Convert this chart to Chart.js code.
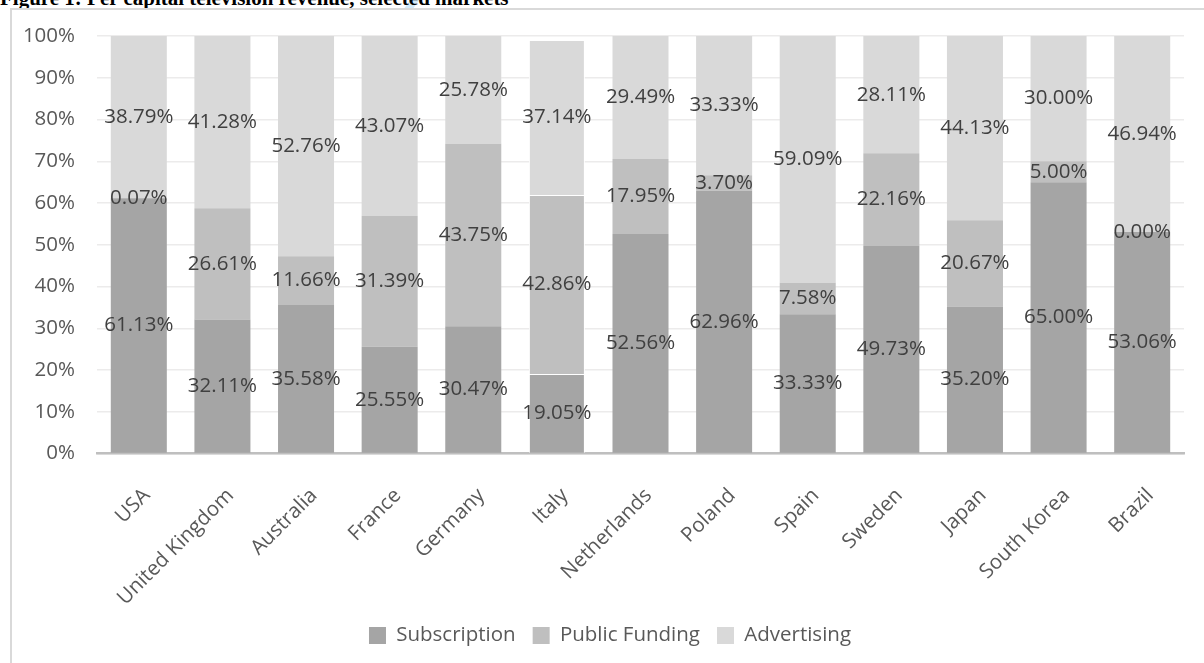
<!DOCTYPE html>
<html>
<head>
<meta charset="utf-8">
<script src="https://cdn.jsdelivr.net/npm/chart.js@4.4.1/dist/chart.umd.min.js"></script>
<style>
    html, body { margin: 0; padding: 0; background: #fff; overflow: hidden; }
    #wrap { position: relative; width: 1204px; height: 663px; }
    #realce {
        position: absolute; left: 407px; top: 0; width: 9px; height: 9px;
        background: #d3eaf9; transform: skewX(-35deg);
    }
    #titulo {
        position: absolute; left: 0; top: -14px; line-height: 21px;
        font: bold 21px "Liberation Serif", "Times New Roman", serif; color: #000; white-space: nowrap;
    }
    #moldura {
        position: absolute; left: 10px; top: 8px; width: 1300px; height: 700px;
        border-left: 2px solid #d9d9d9; border-top: 2px solid #d9d9d9;
    }
    #grafico { position: absolute; left: 0; top: 0; }
</style>
</head>
<body>
<div id="wrap">
    <div id="realce"></div>
    <div id="titulo">Figure 1: Per capital television revenue, selected markets</div>
    <div id="moldura"></div>
    <canvas id="grafico" width="1204" height="663"></canvas>
</div>
<script>
const paises = ['USA', 'United Kingdom', 'Australia', 'France', 'Germany', 'Italy',
    'Netherlands', 'Poland', 'Spain', 'Sweden', 'Japan', 'South Korea', 'Brazil'];
const assinatura = [61.13, 32.11, 35.58, 25.55, 30.47, 19.05, 52.56, 62.96, 33.33, 49.73, 35.20, 65.00, 53.06];
const financiamentoPublico = [0.07, 26.61, 11.66, 31.39, 43.75, 42.86, 17.95, 3.70, 7.58, 22.16, 20.67, 5.00, 0.00];
const publicidade = [38.79, 41.28, 52.76, 43.07, 25.78, 37.14, 29.49, 33.33, 59.09, 28.11, 44.13, 30.00, 46.94];
const ticksY = [0, 10, 20, 30, 40, 50, 60, 70, 80, 90, 100];

const fonte = '"Open Sans", "Noto Sans", sans-serif';
const tamFonte = 20.5;
// Italy has a thin white outline in the original
const bordaItalia = paises.map(p => p === 'Italy' ? 1 : 0);

// draws the value labels in the middle of each segment
const rotulosPlugin = {
    id: 'rotulos',
    afterDatasetsDraw(chart) {
        const ctx = chart.ctx;
        ctx.save();
        ctx.font = tamFonte + 'px ' + fonte;
        ctx.fillStyle = '#404040';
        ctx.textAlign = 'center';
        ctx.textBaseline = 'middle';
        chart.data.datasets.forEach((ds, i) => {
            chart.getDatasetMeta(i).data.forEach((bar, j) => {
                const p = bar.getCenterPoint();
                ctx.fillText(ds.data[j].toFixed(2) + '%', p.x, p.y);
            });
        });
        ctx.restore();
    }
};

// the legend is centred on the frame, not on the canvas
const legendaPlugin = {
    id: 'legendaCentro',
    afterLayout(chart) {
        if (chart.legend) chart.legend.left = 36;
    }
};

new Chart(document.getElementById('grafico'), {
    type: 'bar',
    data: {
        labels: paises,
        datasets: [
            { label: 'Subscription', data: assinatura, backgroundColor: '#a5a5a5', borderColor: '#fff', borderWidth: bordaItalia },
            { label: 'Public Funding', data: financiamentoPublico, backgroundColor: '#bfbfbf', borderColor: '#fff', borderWidth: bordaItalia },
            { label: 'Advertising', data: publicidade, backgroundColor: '#d9d9d9', borderColor: '#fff', borderWidth: bordaItalia }
        ]
    },
    options: {
        responsive: false,
        animation: false,
        events: [],
        categoryPercentage: 0.67,
        barPercentage: 1,
        layout: { padding: { top: 36, right: 20, left: 0, bottom: 7.25 } },
        plugins: {
            legend: {
                position: 'bottom',
                labels: {
                    font: { family: fonte, size: tamFonte },
                    color: '#595959',
                    boxWidth: 17, boxHeight: 17,
                    padding: 17
                }
            },
            tooltip: { enabled: false }
        },
        scales: {
            x: {
                stacked: true,
                z: 1,
                grid: { display: false },
                border: { color: '#bfbfbf', width: 2.5 },
                ticks: {
                    font: { family: fonte, size: tamFonte },
                    color: '#595959',
                    minRotation: 45, maxRotation: 45,
                    padding: 22,
                    labelOffset: 8
                },
                afterFit: s => { s.height = 154.75; }
            },
            y: {
                stacked: true,
                min: 0, max: 100,
                z: 1,
                afterBuildTicks: s => { s.ticks = ticksY.map(v => ({ value: v })); },
                grid: { color: 'rgba(70,55,55,0.1)', lineWidth: 1.5, drawTicks: false },
                border: { display: false },
                ticks: {
                    font: { family: fonte, size: tamFonte },
                    color: '#595959',
                    padding: 22,
                    callback: v => v + '%'
                },
                afterFit: s => { s.width = 97; }
            }
        }
    },
    plugins: [rotulosPlugin, legendaPlugin]
});
</script>
</body>
</html>
